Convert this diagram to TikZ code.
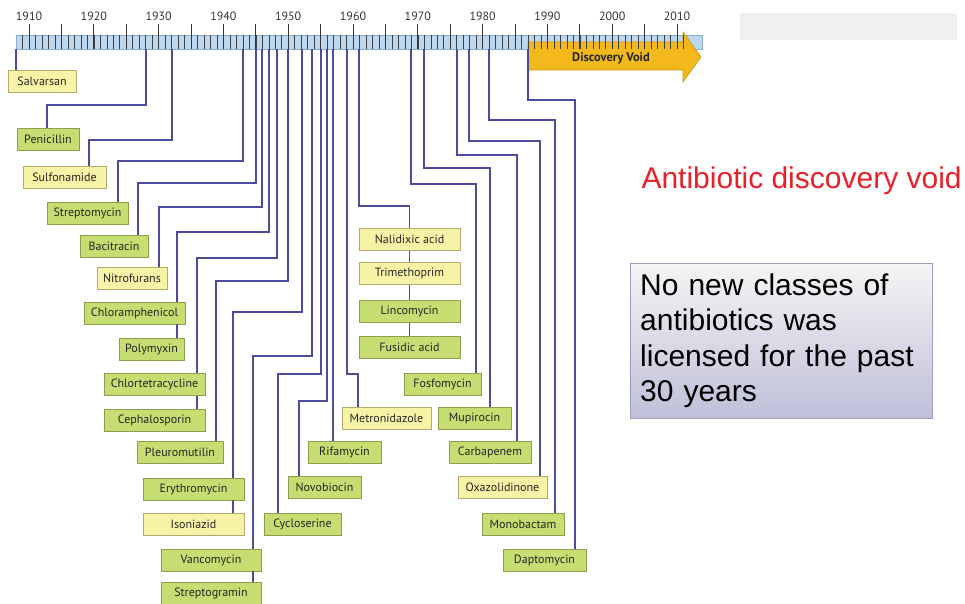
\documentclass[tikz,border=0pt]{standalone}
\usepackage{fontspec}
\setmainfont{PT Sans}
\newfontfamily\arialfont{Liberation Sans}
\usetikzlibrary{positioning}

% colours
\definecolor{natgreen}{HTML}{C6DD72}
\definecolor{natedge}{HTML}{8E9E4C}
\definecolor{synyellow}{HTML}{F7F3A6}
\definecolor{synedge}{HTML}{B2AA6E}
\definecolor{lineblue}{HTML}{4C4C9C}
\definecolor{barblue}{HTML}{BDD7EE}
\definecolor{baredge}{HTML}{8DAECB}
\definecolor{voidgold}{HTML}{F2B81C}
\definecolor{voidedge}{HTML}{C8960E}
\definecolor{voidred}{HTML}{E8202A}
\definecolor{noteedge}{HTML}{9C9CC4}

\begin{document}
\begin{tikzpicture}[x=1pt,y=-1pt,
		drug/.style={rectangle,minimum height=22pt,inner sep=1pt,line width=.8pt,
			font=\fontsize{12}{13}\selectfont,text=black!85},
		natural/.style={drug,fill=natgreen,draw=natedge},
		synthetic/.style={drug,fill=synyellow,draw=synedge},
		drugline/.style={draw=lineblue,line width=1.4pt}]
		
		\useasboundingbox (0,0) rectangle (965,604);
		\fill[black!6] (740,13) rectangle (957,40); % faint strip top right
		
		% Timeline bar
		\draw[fill=barblue,draw=baredge,line width=.6pt] (16,35) rectangle (702,49);
		% Discovery void arrow
		\draw[fill=voidgold,draw=voidedge,line width=.6pt] (528,42) -- (683,42) -- (683,32) -- (701,57) -- (683,82) -- (683,70) -- (528,70) -- cycle;
		\node[font=\bfseries\fontsize{12.5}{14}\selectfont,text=black!85] (void) at (611,58) {Discovery Void};
		% year ticks and labels
		\foreach \yr in {1909,...,2011}
			\draw[black!75,line width=.5pt] ({29+(\yr-1910)*6.48},35) -- ++(0,14);
		\foreach \yr in {1910,1915,...,2010}
			\draw[black!80,line width=.9pt] ({29+(\yr-1910)*6.48},24) -- ++(0,25);
		\foreach \yr in {1910,1920,...,2010}
			\node[font=\fontsize{12}{13}\selectfont,text=black!80] (yr\yr) at ({29+(\yr-1910)*6.48},16) {\yr};
		
		% where each drug leaves the bar
		\foreach \n/\x in {salv/16,peni/146,sulf/172,strm/243,baci/256,nitr/262,chlo/269,chlt/277,
			pleu/288,eryt/302,vanc/312,cycl/321,novo/327,rifa/333,metr/347,nali/359,
			fosf/411,mupi/424,carb/457,oxaz/469,mono/489,dapt/528}
			\coordinate (t-\n) at (\x,49);
		
		% Drug boxes - left fan
		\node[synthetic,minimum width=68pt] (salv) at (42,81.5) {Salvarsan};
		\node[natural,minimum width=62pt] (peni) at (48,139.5) {Penicillin};
		\node[synthetic,minimum width=83pt] (sulf) at (64.5,177) {Sulfonamide};
		\node[natural,minimum width=81pt] (strm) at (87.5,213.5) {Streptomycin};
		\node[natural,minimum width=68pt] (baci) at (114,246.5) {Bacitracin};
		\node[synthetic,minimum width=70pt] (nitr) at (132,278.5) {Nitrofurans};
		\node[natural,minimum width=101pt] (chlo) at (134.5,313) {Chloramphenicol};
		\node[natural,minimum width=65pt] (poly) at (151.5,349) {Polymyxin};
		\node[natural,minimum width=101pt] (chlt) at (154.5,384.5) {Chlortetracycline};
		\node[natural,minimum width=101pt] (ceph) at (154.5,420) {Cephalosporin};
		\node[natural,minimum width=86pt] (pleu) at (180,452) {Pleuromutilin};
		\node[natural,minimum width=101pt] (eryt) at (193.5,489) {Erythromycin};
		\node[synthetic,minimum width=101pt] (ison) at (193.5,524) {Isoniazid};
		\node[natural,minimum width=100pt] (vanc) at (211,560) {Vancomycin};
		\node[natural,minimum width=100pt] (stgr) at (211,593.5) {Streptogramin};
		
		% Drug boxes - middle
		\node[natural,minimum width=77pt] (cycl) at (302.5,524) {Cycloserine};
		\node[natural,minimum width=73pt] (novo) at (324.5,487) {Novobiocin};
		\node[natural,minimum width=73pt] (rifa) at (344.5,452) {Rifamycin};
		\node[synthetic,minimum width=89pt] (metr) at (386.5,418) {Metronidazole};
		\node[synthetic,minimum width=101pt] (nali) at (409.5,239.5) {Nalidixic acid};
		\node[synthetic,minimum width=101pt] (trim) at (409.5,273.5) {Trimethoprim};
		\node[natural,minimum width=101pt] (linc) at (409.5,311.5) {Lincomycin};
		\node[natural,minimum width=101pt] (fusi) at (409.5,347) {Fusidic acid};
		
		% Drug boxes - right fan
		\node[natural,minimum width=77pt] (fosf) at (442.5,384.5) {Fosfomycin};
		\node[natural,minimum width=73pt] (mupi) at (474.5,418) {Mupirocin};
		\node[natural,minimum width=82pt] (carb) at (490,452) {Carbapenem};
		\node[synthetic,minimum width=89pt] (oxaz) at (502.5,487) {Oxazolidinone};
		\node[natural,minimum width=82pt] (mono) at (523,524) {Monobactam};
		\node[natural,minimum width=83pt] (dapt) at (544.5,560) {Daptomycin};
		
		% Lines from the bar down to the boxes
		\draw[drugline] (t-salv) -- (salv.north -| t-salv);
		\draw[drugline] (t-peni) -- ++(0,56) -| ([xshift=-1pt]peni.north);
		\draw[drugline] (t-sulf) -- ++(0,91) -| ([xshift=24.5pt]sulf.north);
		\draw[drugline] (t-strm) -- ++(0,112) -| ([xshift=30.5pt]strm.north);
		\draw[drugline] (t-baci) -- ++(0,134) -| ([xshift=24pt]baci.north);
		\draw[drugline] (t-nitr) -- ++(0,158) -| ([xshift=27pt]nitr.north);
		\draw[drugline] (t-chlo) -- ++(0,183) -| ([xshift=42.5pt]chlo.north);
		\draw[drugline] ([xshift=42.5pt]chlo.south) -- ([xshift=25.5pt]poly.north);
		\draw[drugline] (t-chlt) -- ++(0,209) -| ([xshift=42.5pt]chlt.north);
		\draw[drugline] ([xshift=42.5pt]chlt.south) -- ([xshift=42.5pt]ceph.north);
		\draw[drugline] (t-pleu) -- ++(0,232) -| ([xshift=36pt]pleu.north);
		\draw[drugline] (t-eryt) -- ++(0,263) -| ([xshift=39.5pt]eryt.north);
		\draw[drugline] ([xshift=39.5pt]eryt.south) -- ([xshift=39.5pt]ison.north);
		\draw[drugline] (t-vanc) -- ++(0,307) -| ([xshift=42pt]vanc.north);
		\draw[drugline] ([xshift=42pt]vanc.south) -- ([xshift=42pt]stgr.north);
		\draw[drugline] (t-cycl) -- ++(0,325) -| ([xshift=-24.5pt]cycl.north);
		\draw[drugline] (t-novo) -- ++(0,352) -| ([xshift=-25.5pt]novo.north);
		\draw[drugline] (t-rifa) -- (rifa.north -| t-rifa);
		\draw[drugline] (t-metr) -- ++(0,325) -| ([xshift=-28.5pt]metr.north);
		\draw[drugline] (t-nali) -- ++(0,157) -| (nali.north);
		\draw[drugline] (nali) -- (trim);
		\draw[drugline] (trim) -- (linc);
		\draw[drugline] (linc) -- (fusi);
		\draw[drugline] (t-fosf) -- ++(0,135) -| ([xshift=33.5pt]fosf.north);
		\draw[drugline] (t-mupi) -- ++(0,119) -| ([xshift=15.5pt]mupi.north);
		\draw[drugline] (t-carb) -- ++(0,106) -| ([xshift=27pt]carb.north);
		\draw[drugline] (t-oxaz) -- ++(0,92) -| ([xshift=37.5pt]oxaz.north);
		\draw[drugline] (t-mono) -- ++(0,71) -| ([xshift=32pt]mono.north);
		\draw[drugline] (t-dapt) -- ++(0,51) -| ([xshift=30.5pt]dapt.north);
		
		% Side notes
		\node[anchor=base west,font=\arialfont\fontsize{30}{34}\selectfont,text=voidred] (title) at (638,188) {Antibiotic discovery void};
		\node[anchor=north west,minimum width=302pt,minimum height=155pt,text width=282pt,align=left,
			inner xsep=10pt,top color=black!4!white,bottom color=blue!40!black!25!white,draw=noteedge,
			font=\arialfont\fontsize{30}{35.5}\selectfont] (note) at (630,263)
			{No new classes of\\antibiotics was\\licensed for the past\\30 years};
\end{tikzpicture}
\end{document}
